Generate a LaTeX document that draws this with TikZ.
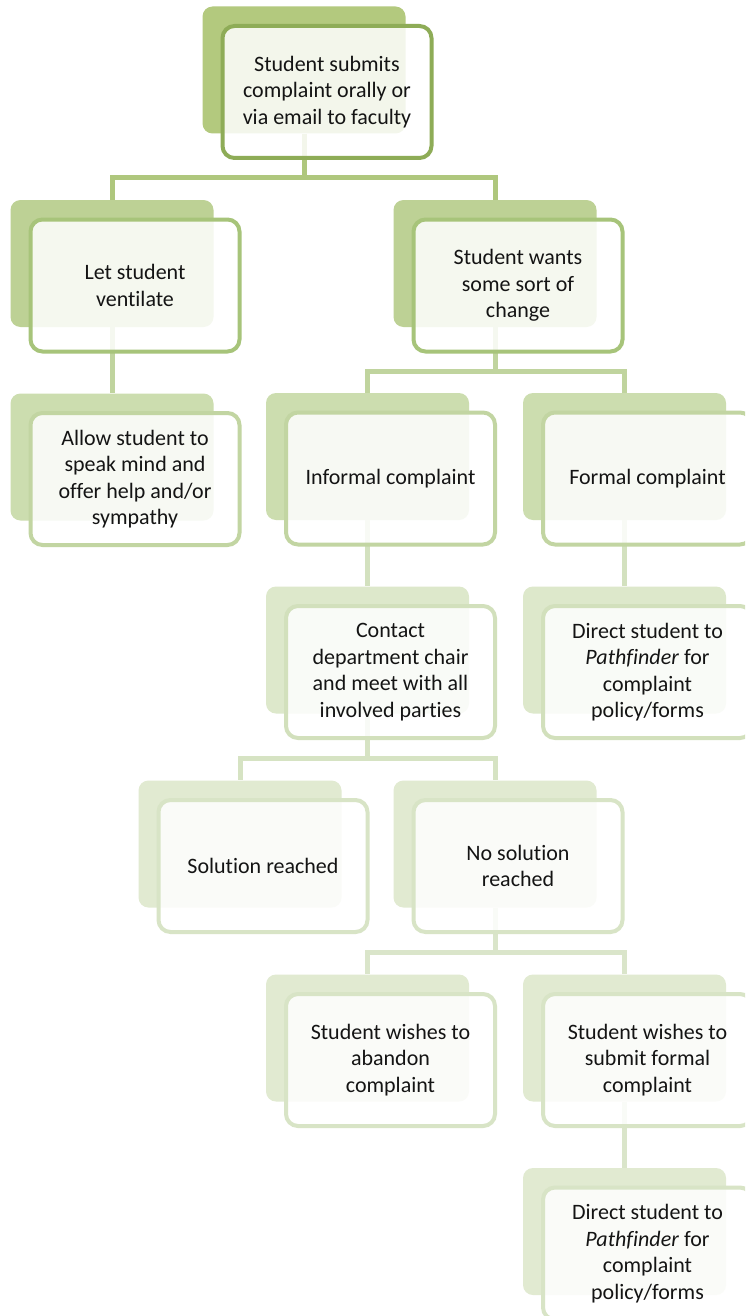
\documentclass[tikz,border=0pt]{standalone}
\usepackage{fontspec}
\setmainfont[Ligatures=NoCommon]{Carlito}
\usetikzlibrary{calc}
\pgfdeclarelayer{bg}
\pgfsetlayers{bg,main}
\definecolor{backA}{HTML}{B3C97E}\definecolor{edgeA}{HTML}{8EAC57}
\definecolor{backB}{HTML}{BDD195}\definecolor{edgeB}{HTML}{A7C47A}
\definecolor{backC}{HTML}{CCDDAF}\definecolor{edgeC}{HTML}{C2D5A2}
\definecolor{backD}{HTML}{DDE8CB}\definecolor{edgeD}{HTML}{D2E0BC}
\definecolor{backE}{HTML}{E1EAD1}\definecolor{edgeE}{HTML}{D8E4C6}
\definecolor{connA}{HTML}{AFC77D}
\definecolor{connB}{HTML}{C0D49E}
\definecolor{connC}{HTML}{D3E1BF}
\definecolor{connD}{HTML}{D6E3C3}
\definecolor{connE}{HTML}{DAE5CA}
\tikzset{
  backbox/.style={rounded corners=10pt, minimum width=203pt, minimum height=127pt, inner sep=0pt},
  frontbox/.style={rounded corners=12pt, line width=4pt, fill=white, fill opacity=0.85, text opacity=1,
    minimum width=209pt, minimum height=132pt, inner sep=0pt, align=center,
    font=\fontsize{22}{26.5}\selectfont, text=black!92},
  conn/.style={line width=5pt},
}
\newcommand\chartitem[5]{%
  \node[backbox, fill=back#4] (b#1) at (#2,#3) {};
  \node[frontbox, draw=edge#4] (f#1) at ($(b#1)+(23,22)$) {#5};
}
\begin{document}
\begin{tikzpicture}[x=1pt,y=-1pt]
\useasboundingbox (0,0) rectangle (745,1316);
\clip (0,0) rectangle (745,1316);

\chartitem{1}{304}{70}{A}{Student submits\\complaint orally or\\via email to faculty}
\chartitem{2}{112}{263.5}{B}{Let student\\ventilate}
\chartitem{3}{495}{263.5}{B}{Student wants\\some sort of\\change}
\chartitem{4}{112}{457}{C}{Allow student to\\speak mind and\\offer help and/or\\sympathy}
\chartitem{5}{367.5}{456.5}{C}{Informal complaint}
\chartitem{6}{624.5}{456.5}{C}{Formal complaint}
\chartitem{7}{367.5}{650}{D}{Contact\\department chair\\and meet with all\\involved parties}
\chartitem{8}{624.5}{650}{D}{Direct student to\\\textit{Pathfinder} for\\complaint\\policy/forms}
\chartitem{9}{240}{844}{E}{Solution reached}
\chartitem{10}{495}{844}{E}{No solution\\reached}
\chartitem{11}{367.5}{1038}{E}{Student wishes to\\abandon\\complaint}
\chartitem{12}{624.5}{1038}{E}{Student wishes to\\submit formal\\complaint}
\chartitem{13}{624.5}{1231.5}{E}{Direct student to\\\textit{Pathfinder} for\\complaint\\policy/forms}

\begin{pgfonlayer}{bg}
  \fill[white] (0,0) rectangle (745,1316);
  \draw[conn, connA] (b1.south) |- ([yshift=22pt]b2.north) -- (b2.north);
  \draw[conn, connA] (b1.south) |- ([yshift=22pt]b3.north) -- (b3.north);
  \draw[conn, connB] (b2.south) -- (b4.north);
  \draw[conn, connB] (b3.south) |- ([yshift=21pt]b5.north) -- (b5.north);
  \draw[conn, connB] (b3.south) |- ([yshift=21pt]b6.north) -- (b6.north);
  \draw[conn, connC] (b5.south) -- (b7.north);
  \draw[conn, connC] (b6.south) -- (b8.north);
  \draw[conn, connD] (b7.south) |- ([yshift=22pt]b9.north) -- (b9.north);
  \draw[conn, connD] (b7.south) |- ([yshift=22pt]b10.north) -- (b10.north);
  \draw[conn, connE] (b10.south) |- ([yshift=22pt]b11.north) -- (b11.north);
  \draw[conn, connE] (b10.south) |- ([yshift=22pt]b12.north) -- (b12.north);
  \draw[conn, connE] (b12.south) -- (b13.north);
\end{pgfonlayer}
\end{tikzpicture}
\end{document}
